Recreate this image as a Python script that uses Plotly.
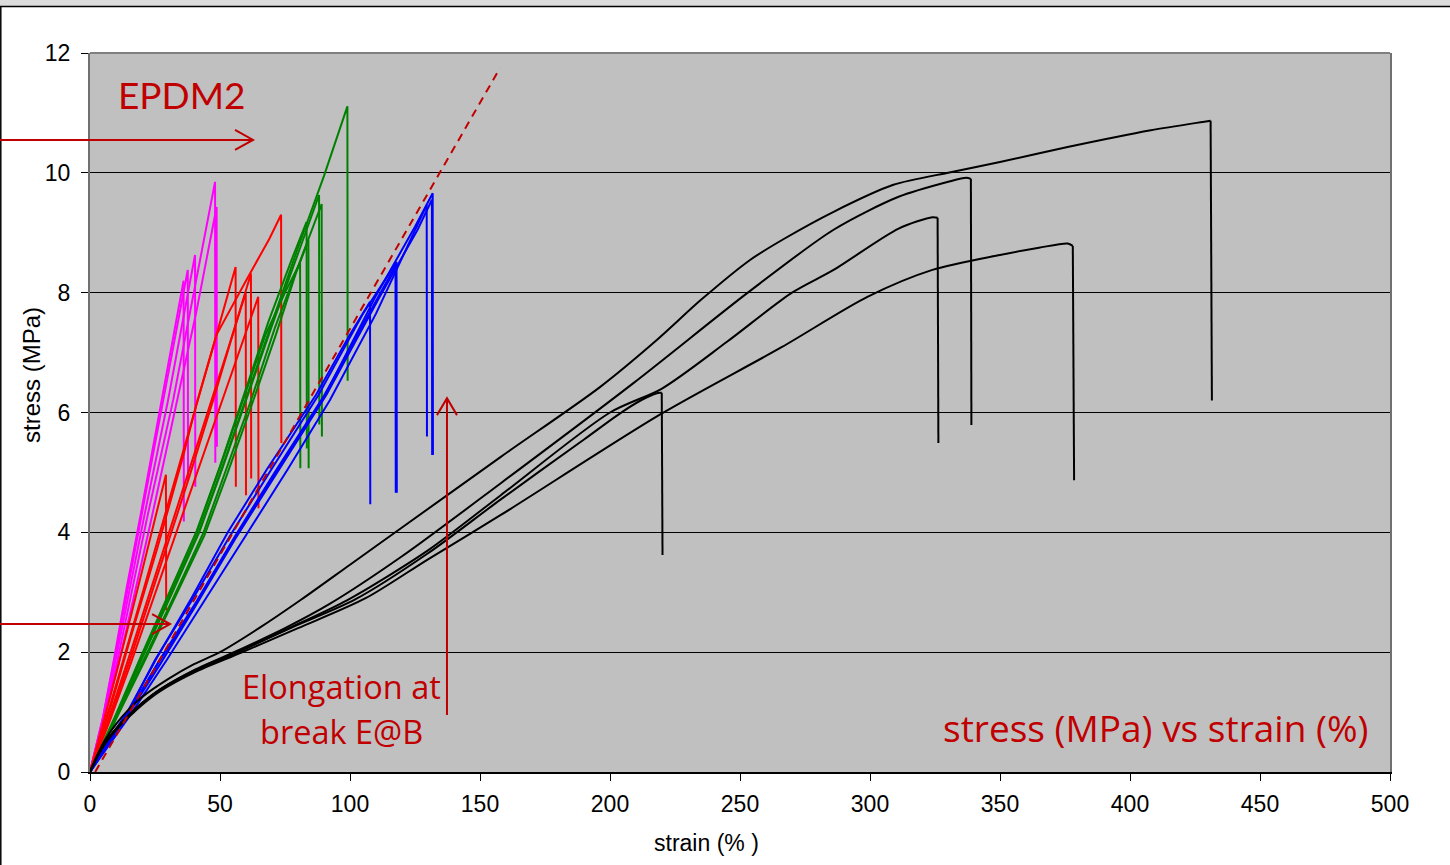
import plotly.graph_objects as go

# ---------------- data (strain %, stress MPa) ----------------
magenta_strain = [
    [0, 5, 10.5, 16, 22, 32, 40, 48.1, 48.2],
    [0, 5, 11, 17, 23, 32.5, 41, 48.7, 48.8],
    [0, 5, 10, 15, 21, 30, 40.4, 40.5],
    [0, 5, 9.5, 14.5, 20, 28, 37.6, 37.7],
    [0, 5, 9.3, 14, 19.5, 27.6, 36.0, 36.1],
]
magenta_stress = [
    [0, 0.85, 1.85, 3.0, 4.25, 6.21, 8.0, 9.85, 5.16],
    [0, 0.82, 1.8, 2.95, 4.1, 6.0, 7.7, 9.43, 5.43],
    [0, 0.88, 1.9, 3.0, 4.3, 6.2, 8.63, 4.76],
    [0, 0.9, 1.9, 3.05, 4.3, 6.2, 8.38, 4.87],
    [0, 0.92, 1.9, 3.05, 4.3, 6.2, 8.2, 4.18],
]

red_strain = [
    [0, 8, 16, 25, 35, 48.7, 60, 69, 73.5, 73.6],
    [0, 8, 16, 26, 36, 41, 48, 56, 56.1],
    [0, 8, 16, 26, 38, 47.4, 55, 61.9, 62.0],
    [0, 8, 16, 26, 38, 50, 57, 64.7, 64.8],
    [0, 8, 16, 26, 38, 46, 53, 59.9, 60.0],
    [0, 8, 16, 24, 29.2, 29.3],
]
red_stress = [
    [0, 1.15, 2.35, 3.7, 5.2, 7.3, 8.2, 8.9, 9.3, 5.49],
    [0, 1.1, 2.3, 3.75, 5.3, 6.15, 7.2, 8.43, 4.76],
    [0, 0.95, 1.95, 3.3, 4.9, 6.21, 7.3, 8.32, 4.9],
    [0, 0.9, 1.85, 3.1, 4.6, 6.1, 7.0, 7.93, 4.4],
    [0, 1.0, 2.05, 3.4, 5.0, 6.1, 7.05, 8.0, 4.62],
    [0, 1.3, 2.65, 4.05, 4.96, 2.70],
]

green_strain = [
    [0, 10, 20, 31, 42, 51, 60, 70, 80, 90, 99, 99.1],
    [0, 10, 20, 31, 42, 51, 60, 70, 80, 88.1, 88.2],
    [0, 10, 20.8, 32, 43.5, 52.5, 61.5, 71, 81, 89.1, 89.2],
    [0, 10, 19.3, 30, 41, 50, 59, 68.5, 78, 83.3, 83.4],
    [0, 10, 21, 32.5, 44, 53, 62, 71.5, 79, 84, 84.1],
    [0, 10, 19.5, 30.5, 41.5, 50.5, 59.5, 67.5, 75, 80.8, 80.9],
]
green_stress = [
    [0, 0.92, 1.9, 2.95, 4.02, 5.1, 6.25, 7.5, 8.75, 9.95, 11.11, 6.53],
    [0, 0.93, 1.9, 2.93, 4.0, 5.08, 6.2, 7.45, 8.65, 9.63, 5.8],
    [0, 0.9, 1.87, 2.9, 3.98, 5.05, 6.15, 7.4, 8.55, 9.48, 5.6],
    [0, 0.96, 1.9, 2.95, 4.02, 5.1, 6.25, 7.5, 8.6, 9.18, 5.4],
    [0, 0.88, 1.85, 2.9, 3.95, 5.0, 6.1, 7.3, 8.3, 8.88, 5.07],
    [0, 0.95, 1.9, 2.97, 4.05, 5.15, 6.3, 7.3, 8.0, 8.5, 5.07],
]

blue_strain = [
    [0, 8, 15, 26, 40, 55, 70, 90, 110, 125, 131.8, 131.9],
    [0, 8, 15, 29.5, 44, 60, 76, 92.3, 110, 122, 129.5, 129.6],
    [0, 8, 15, 25, 39, 54, 69, 88, 105, 117.9, 118.0],
    [0, 8, 15, 25.6, 39, 53, 68, 87, 100, 107.7, 107.8],
    [0, 8, 15, 27, 41, 56, 72, 91, 111, 126, 131.5, 131.6],
    [0, 8, 15, 26.5, 41, 56, 71, 90, 106, 117.5, 117.6],
]
blue_stress = [
    [0, 0.55, 1.0, 1.8, 2.75, 3.85, 4.9, 6.25, 7.95, 9.1, 9.66, 5.29],
    [0, 0.5, 0.92, 1.87, 2.85, 3.95, 5.05, 6.21, 7.65, 8.75, 9.46, 5.6],
    [0, 0.57, 1.03, 1.87, 2.85, 3.95, 5.0, 6.3, 7.65, 8.51, 4.66],
    [0, 0.58, 1.05, 1.9, 2.9, 4.0, 5.05, 6.3, 7.3, 7.85, 4.47],
    [0, 0.54, 0.98, 1.8, 2.8, 3.9, 5.0, 6.3, 7.9, 9.05, 9.55, 5.29],
    [0, 0.55, 1.0, 1.85, 2.85, 3.95, 5.0, 6.28, 7.55, 8.45, 4.66],
]

black_strain = [
    [0, 3, 6, 10, 15, 20, 30, 40, 50, 65, 81, 100, 120, 158, 196, 218, 235, 254, 267, 286, 309, 331, 350, 376, 408, 428, 431, 431.5],
    [0, 3, 6, 10, 15, 20, 27, 40, 58, 75, 92, 120, 158, 209, 253, 286, 311, 330, 337, 338.8, 339],
    [0, 3, 6, 10, 15, 20, 27, 40, 58, 75, 99, 130, 158, 200, 220, 245, 270, 286, 311, 324, 326, 326.3],
    [0, 3, 6, 10, 15, 20, 27, 40, 58, 80, 106, 130, 158, 219, 266, 299, 324, 350, 365, 376, 378, 378.5],
    [0, 3, 6, 10, 15, 20, 27, 40, 58, 78, 102, 130, 158, 190, 205, 214, 219, 219.9, 220.2],
]
black_stress = [
    [0, 0.3, 0.55, 0.8, 1.05, 1.25, 1.55, 1.8, 2.0, 2.4, 2.87, 3.46, 4.08, 5.26, 6.42, 7.21, 7.88, 8.55, 8.9, 9.35, 9.8, 10.01, 10.18, 10.43, 10.71, 10.85, 10.87, 6.2],
    [0, 0.28, 0.5, 0.72, 0.95, 1.15, 1.38, 1.7, 2.05, 2.4, 2.8, 3.6, 4.82, 6.49, 8.0, 9.05, 9.6, 9.85, 9.92, 9.9, 5.79],
    [0, 0.28, 0.5, 0.72, 0.94, 1.14, 1.37, 1.68, 2.02, 2.37, 2.87, 3.7, 4.62, 6.0, 6.4, 7.18, 8.0, 8.38, 9.07, 9.26, 9.25, 5.49],
    [0, 0.27, 0.48, 0.7, 0.92, 1.12, 1.35, 1.66, 1.99, 2.4, 2.9, 3.55, 4.29, 5.96, 7.09, 7.93, 8.38, 8.63, 8.75, 8.82, 8.78, 4.87],
    [0, 0.28, 0.5, 0.72, 0.95, 1.15, 1.38, 1.69, 2.03, 2.42, 2.88, 3.65, 4.55, 5.55, 6.02, 6.25, 6.33, 6.33, 3.62],
]

dashed_strain = [2, 157.7]
dashed_stress = [0, 11.75]

x_ticks = [0, 50, 100, 150, 200, 250, 300, 350, 400, 450, 500]
y_ticks = [0, 2, 4, 6, 8, 10, 12]

# arrow tips (data)
arrow1_tip = (62.7, 10.55)
arrow2_tip = (30.8, 2.47)
arrow3_tip = (137.3, 6.24)

DARKRED = "#C00000"
X_MAX, Y_MAX = 500, 12
L, R, T, B = 90, 60, 53, 93
W, H = 1450, 865
PW, PH = W - L - R, H - T - B

fig = go.Figure()

def add_group(xs, ys, color, width=2, smooth=False):
    for sx, sy in zip(xs, ys):
        if smooth:
            # rising part as a smooth curve, final break as a straight drop
            fig.add_trace(go.Scatter(x=sx[:-1], y=sy[:-1], mode="lines",
                                     line=dict(color=color, width=width, shape="spline", smoothing=0.8),
                                     showlegend=False, hoverinfo="skip"))
            fig.add_trace(go.Scatter(x=sx[-2:], y=sy[-2:], mode="lines",
                                     line=dict(color=color, width=width),
                                     showlegend=False, hoverinfo="skip"))
        else:
            fig.add_trace(go.Scatter(x=sx, y=sy, mode="lines",
                                     line=dict(color=color, width=width),
                                     showlegend=False, hoverinfo="skip"))

add_group(magenta_strain, magenta_stress, "#FF00FF")
add_group(red_strain, red_stress, "#FF0000")
add_group(green_strain, green_stress, "#008000")
add_group(blue_strain, blue_stress, "#0000FF")
add_group(black_strain, black_stress, "#000000", smooth=True)

fig.add_trace(go.Scatter(x=dashed_strain, y=dashed_stress, mode="lines",
                         line=dict(color=DARKRED, width=2, dash="8px,6px"),
                         showlegend=False, hoverinfo="skip"))

def px2paper_x(px):
    return (px - L) / PW

def px2paper_y(py):
    return (H - B - py) / PH

shapes = []
# top faded strip and outer frame
shapes.append(dict(type="rect", xref="paper", yref="paper",
                   x0=px2paper_x(0), x1=px2paper_x(W), y0=px2paper_y(6), y1=px2paper_y(0),
                   fillcolor="#dcdcdc", line=dict(width=0), layer="below"))
shapes.append(dict(type="line", xref="paper", yref="paper",
                   x0=px2paper_x(0), x1=px2paper_x(W), y0=px2paper_y(6.5), y1=px2paper_y(6.5),
                   line=dict(color="black", width=1.5)))
shapes.append(dict(type="line", xref="paper", yref="paper",
                   x0=px2paper_x(0.8), x1=px2paper_x(0.8), y0=px2paper_y(6.5), y1=px2paper_y(H),
                   line=dict(color="black", width=1.5)))
# plot top border
shapes.append(dict(type="line", xref="paper", yref="paper", x0=0, x1=1, y0=1, y1=1,
                   line=dict(color="#808080", width=2)))

def arrow(tip, path):
    return dict(type="path", xref="paper", yref="paper",
                xsizemode="pixel", ysizemode="pixel",
                xanchor=tip[0] / X_MAX, yanchor=tip[1] / Y_MAX,
                path=path, fillcolor="rgba(0,0,0,0)",
                line=dict(color=DARKRED, width=2))

shapes.append(arrow(arrow1_tip, "M-253,0L0,0M-18,10L0,0L-18,-10"))
shapes.append(arrow(arrow2_tip, "M-170,0L0,0M-18,10L0,0L-18,-10"))
shapes.append(arrow(arrow3_tip, "M0,-317L0,0M-10,-17L0,0L10,-17"))

annotations = [
    dict(text="EPDM2", x=10, y=11.3, xref="x", yref="y", xanchor="left", yanchor="middle",
         showarrow=False, font=dict(family="Lato", size=37, color=DARKRED)),
    dict(text="Elongation at", x=96.9, y=1.42, xref="x", yref="y", xanchor="center", yanchor="middle",
         showarrow=False, font=dict(family="Open Sans", size=32.5, color=DARKRED)),
    dict(text="break E@B", x=96.9, y=0.68, xref="x", yref="y", xanchor="center", yanchor="middle",
         showarrow=False, font=dict(family="Open Sans", size=32.5, color=DARKRED)),
    dict(text="stress (MPa) vs strain (%)", x=492.3, y=0.75, xref="x", yref="y",
         xanchor="right", yanchor="middle", showarrow=False,
         font=dict(family="Open Sans", size=37, color=DARKRED)),
    dict(text="stress (MPa)", x=px2paper_x(31), y=px2paper_y(375), xref="paper", yref="paper",
         textangle=-90, showarrow=False, xanchor="center", yanchor="middle",
         font=dict(family="Liberation Sans", size=24, color="black")),
    dict(text="strain (% )", x=px2paper_x(706), y=px2paper_y(843), xref="paper", yref="paper",
         showarrow=False, xanchor="center", yanchor="middle",
         font=dict(family="Liberation Sans", size=23, color="black")),
]

fig.update_layout(
    width=W, height=H,
    margin=dict(l=L, r=R, t=T, b=B),
    paper_bgcolor="white", plot_bgcolor="#C0C0C0",
    shapes=shapes, annotations=annotations,
    xaxis=dict(range=[0, X_MAX], tickvals=x_ticks, ticktext=[str(v) for v in x_ticks],
               ticks="outside", ticklen=7, tickcolor="black", tickwidth=1,
               ticklabelstandoff=3,
               showgrid=False, zeroline=False, showline=True, linecolor="black", linewidth=2,
               tickfont=dict(family="Liberation Sans", size=23, color="black")),
    yaxis=dict(range=[0, Y_MAX], tickvals=y_ticks, ticktext=[str(v) for v in y_ticks],
               ticks="outside", ticklen=7, tickcolor="black", tickwidth=1,
               ticklabelstandoff=6,
               showgrid=True, gridcolor="black", gridwidth=1, zeroline=False,
               showline=True, linecolor="#707070", linewidth=2, mirror=True,
               tickfont=dict(family="Liberation Sans", size=23, color="black")),
)

fig.write_html("out.html")
